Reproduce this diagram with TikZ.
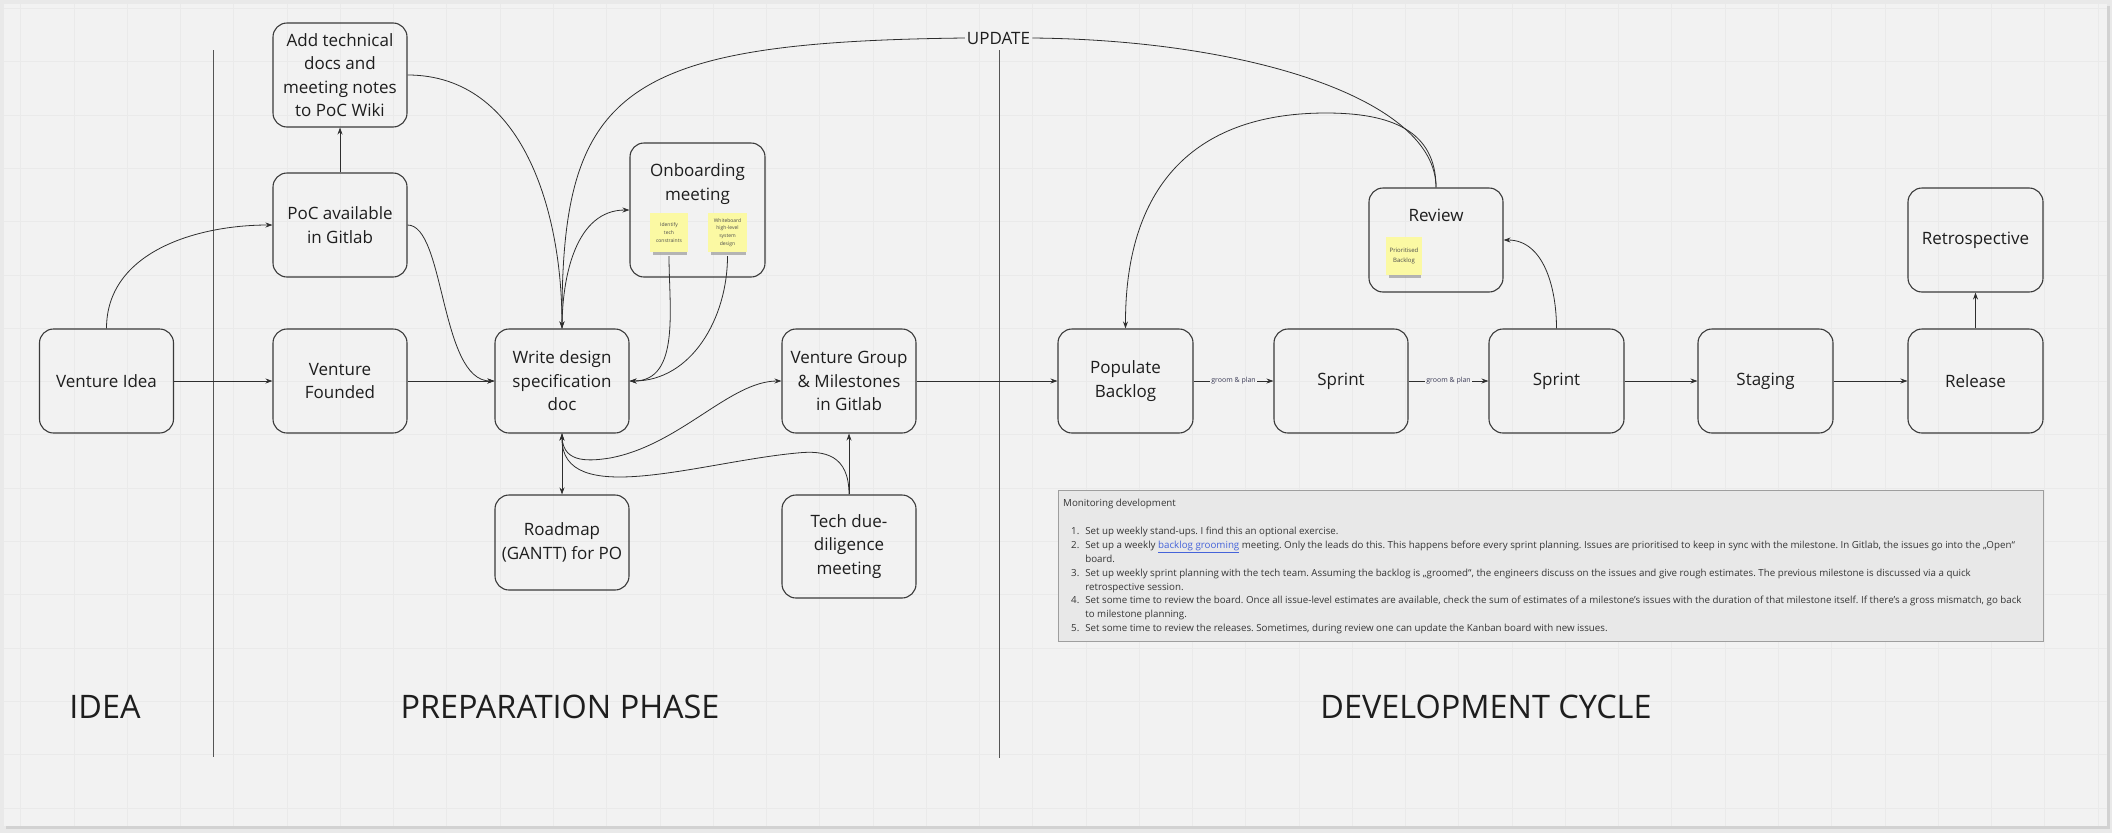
\documentclass[tikz,border=0pt]{standalone}
\usepackage{fontspec}
\setmainfont{Open Sans}
\usetikzlibrary{arrows.meta}
\frenchspacing
\definecolor{outerc}{HTML}{E9E9E9}
\definecolor{shadowc}{HTML}{D2D2D2}
\definecolor{bg}{HTML}{F2F2F2}
\definecolor{gridc}{HTML}{EAEAEA}
\definecolor{ink}{HTML}{1E1E1E}
\definecolor{linec}{HTML}{3A3A3A}
\definecolor{conc}{HTML}{2E2E2E}
\definecolor{stickyc}{HTML}{FBF9A3}
\definecolor{stickysh}{HTML}{8C8C8C}
\definecolor{monfill}{HTML}{E8E8E8}
\definecolor{monborder}{HTML}{9E9E9E}
\definecolor{linkc}{HTML}{4563D9}
\definecolor{labelc}{HTML}{3A3A55}
\definecolor{divc}{HTML}{555555}
\newcommand\nodefont{\fontsize{17}{23.5}\selectfont}
\newcommand\bigfont{\fontsize{32.4}{38}\selectfont}
\newcommand\monfont{\fontsize{9.75}{13.9}\selectfont}
\tikzset{
  box/.style={draw=linec, line width=1.1pt, rounded corners=14pt, minimum width=134pt,
    minimum height=104pt, inner sep=2pt, align=center, text=ink, font=\nodefont},
  plaintext/.style={inner sep=1pt, align=center, text=ink, font=\nodefont},
  conn/.style={draw=conc, line width=0.8pt, -{Stealth[length=7pt,width=5pt]}},
  plainline/.style={draw=conc, line width=0.8pt},
  divider/.style={draw=divc, line width=1pt},
  stickynote/.style={fill=stickyc, inner sep=1pt, align=center, text=ink!80,
    font=\fontsize{5}{7.8}\selectfont},
  glabel/.style={fill=bg, inner sep=1.5pt, text=labelc, font=\fontsize{7}{8}\selectfont},
  bigl/.style={inner sep=0pt, text=ink, font=\bigfont},
}
\begin{document}
\begin{tikzpicture}[x=1pt,y=-1pt]
\useasboundingbox (0,0) rectangle (2112,833);
% canvas
\fill[outerc] (0,0) rectangle (2112,833);
\fill[shadowc] (5.5,6) rectangle (2109.5,829);
\fill[bg] (3.5,4) rectangle (2106.5,825.5);
\begin{scope}
  \clip (3.5,4) rectangle (2106.5,825.5);
  \foreach \i in {0,...,39} \draw[gridc, line width=0.6pt] ({20.7+53.26*\i},4) -- ({20.7+53.26*\i},825.5);
  \foreach \j in {0,...,15} \draw[gridc, line width=0.6pt] (3.5,{8.3+53.3*\j}) -- (2106.5,{8.3+53.3*\j});
\end{scope}
% dividers
\draw[divider] (213.6,50) -- (213.6,757);
\draw[divider] (999.5,50) -- (999.5,758);
% phase labels
\node[bigl] (lidea) at (105,707) {IDEA};
\node[bigl] (lprep) at (560,707) {PREPARATION PHASE};
\node[bigl] (ldev) at (1486,707) {DEVELOPMENT CYCLE};
% nodes
\node[box] (vi) at (106.5,381) {Venture Idea};
\node[box] (vf) at (340,381) {Venture\\Founded};
\node[box] (wd) at (562,381) {Write design\\specification\\doc};
\node[box] (vg) at (849,381) {Venture Group\\\& Milestones\\in Gitlab};
\node[box] (poc) at (340,225) {PoC available\\in Gitlab};
\node[box] (atd) at (340,75) {Add technical\\docs and\\meeting notes\\to PoC Wiki};
\node[box, minimum width=135pt, minimum height=134pt] (ob) at (697.5,210) {};
\node[plaintext] (obt) at (697.5,184) {Onboarding\\meeting};
\node[box, minimum height=95pt] (rm) at (562,542.5) {Roadmap\\(GANTT) for PO};
\node[box, minimum height=103pt] (td) at (849,546.5) {Tech due-\\diligence\\meeting};
\node[box, minimum width=135pt] (pb) at (1125.5,381) {Populate\\Backlog};
\node[box] (s1) at (1341,381) {Sprint};
\node[box, minimum width=135pt] (s2) at (1556.5,381) {Sprint};
\node[box, minimum width=135pt] (st) at (1765.5,381) {Staging};
\node[box, minimum width=135pt] (rel) at (1975.5,381) {Release};
\node[box, minimum width=135pt] (retro) at (1975.5,240) {Retrospective};
\node[box] (rev) at (1436,240) {};
\node[plaintext] (revt) at (1436,215) {Review};
% sticky notes
\node[stickynote, minimum width=38pt, minimum height=39pt] (sa) at (669,232.5) {Identify\\tech\\constraints};
\node[stickynote, minimum width=39pt, minimum height=39pt] (sb) at (727.5,232.5) {Whiteboard\\high-level\\system\\design};
\node[stickynote, minimum width=36pt, minimum height=38pt, font=\fontsize{6}{9.5}\selectfont] (sc) at (1404,256) {Prioritised\\Backlog};
\foreach \s in {sa,sb,sc}
  \fill[stickysh, opacity=0.6] ([xshift=3pt]\s.south west) rectangle ([xshift=-1pt,yshift=-3pt]\s.south east);
% UPDATE label
\node[plaintext, inner sep=2pt] (upd) at (998.5,38) {UPDATE};
% connectors
\draw[conn] (vi.east) -- (vf.west);
\draw[conn] (vf.east) -- (wd.west);
\draw[conn] (vi.north) to[out=90,in=180] (poc.west);
\draw[conn] (poc.north) -- (atd.south);
\draw[conn] (poc.east) .. controls (445,225) and (440,381) .. (wd.west);
\draw[conn] (atd.east) to[out=0,in=90] (wd.north);
\draw[plainline] (rev.north) .. controls (1436,100) and (1250,40) .. (upd.east);
\draw[conn] (upd.west) .. controls (620,42) and (561,90) .. (wd.north);
\draw[conn] (wd.north) to[out=90,in=180] (ob.west);
\draw[conn] ([yshift=-4pt]sa.south) to[out=-90,in=0] (wd.east);
\draw[conn] ([yshift=-4pt]sb.south) to[out=-90,in=0] (wd.east);
\draw[conn] (wd.south) .. controls (561,462) and (585,462) .. (610,458) .. controls (680,445) and (730,381) .. (vg.west);
\draw[conn, {Stealth[length=7pt,width=5pt]}-{Stealth[length=7pt,width=5pt]}] (wd.south) -- (rm.north);
\draw[conn] (td.north) -- (vg.south);
\draw[conn] (td.north) .. controls (849,455) and (825,450) .. (797,453) .. controls (700,462) and (561,510) .. (wd.south);
\draw[conn] (vg.east) -- (pb.west);
\draw[conn] (pb.east) -- node[glabel] (gl1) {groom \& plan} (s1.west);
\draw[conn] (s1.east) -- node[glabel] (gl2) {groom \& plan} (s2.west);
\draw[conn] (s2.east) -- (st.west);
\draw[conn] (st.east) -- (rel.west);
\draw[conn] (rel.north) -- (retro.south);
\draw[conn] (s2.north) to[out=90,in=0] (rev.east);
\draw[conn] (rev.north) .. controls (1436,130) and (1390,113) .. (1326,113) .. controls (1200,113) and (1125,180) .. (pb.north);
% monitoring box
\node[draw=monborder, fill=monfill, line width=1.2pt, minimum width=985pt, minimum height=151pt, anchor=north west, inner sep=0pt] (mon) at (1058,490) {};
\node[anchor=north west, inner sep=0pt, text=ink!90, font=\monfont] (montext) at (1063,496.5) {%
\begin{tabular}{@{\hspace{8pt}}r@{\hspace{6pt}}l@{}}
\multicolumn{2}{@{}l@{}}{Monitoring development}\\[13.9pt]
1.& Set up weekly stand-ups. I find this an optional exercise.\\
2.& Set up a weekly \textcolor{linkc}{\underline{backlog grooming}} meeting. Only the leads do this. This happens before every sprint planning. Issues are prioritised to keep in sync with the milestone. In Gitlab, the issues go into the „Open“\\
 & board.\\
3.& Set up weekly sprint planning with the tech team. Assuming the backlog is „groomed“, the engineers discuss on the issues and give rough estimates. The previous milestone is discussed via a quick\\
 & retrospective session.\\
4.& Set some time to review the board. Once all issue-level estimates are available, check the sum of estimates of a milestone’s issues with the duration of that milestone itself. If there’s a gross mismatch, go back\\
 & to milestone planning.\\
5.& Set some time to review the releases. Sometimes, during review one can update the Kanban board with new issues.
\end{tabular}};
\end{tikzpicture}
\end{document}
